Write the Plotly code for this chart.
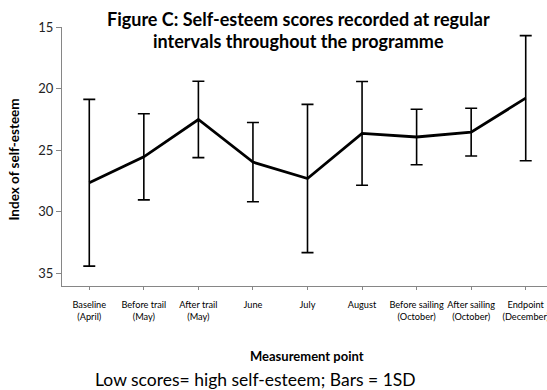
import plotly.graph_objects as go

categories = ["Baseline<br>(April)", "Before trail<br>(May)", "After trail<br>(May)", "June", "July",
              "August", "Before sailing<br>(October)", "After sailing<br>(October)", "Endpoint<br>(December)"]
means = [27.65, 25.54, 22.51, 25.97, 27.30, 23.64, 23.93, 23.54, 20.78]
sds = [6.77, 3.50, 3.10, 3.22, 6.02, 4.21, 2.25, 1.94, 5.08]
y_ticks = [15, 20, 25, 30, 35]
title_lines = ["Figure C: Self-esteem scores recorded at regular", "intervals throughout the programme"]
note = "Low scores= high self-esteem; Bars = 1SD"

FONT = "Lato"
AX = "#868686"
W, H = 547, 390
ML, MT, MB = 61.5, 27, 104
PW, PH = W - ML, H - MT - MB

def px_x(x):
    return (x - ML) / PW

def px_y(y):
    return (H - MB - y) / PH

fig = go.Figure()
fig.add_trace(go.Scatter(
    x=list(range(len(categories))), y=means, mode="lines",
    line=dict(color="black", width=2.8),
    error_y=dict(type="data", array=sds, visible=True, color="black", thickness=1.6, width=6),
    showlegend=False, hoverinfo="skip",
))

fig.update_layout(
    width=W, height=H,
    margin=dict(l=ML, r=0, t=MT, b=MB, autoexpand=False),
    paper_bgcolor="white", plot_bgcolor="white",
    font=dict(family=FONT, color="black"),
    xaxis=dict(range=[-0.5, 8.39], tickmode="array", tickvals=list(range(len(categories))),
               ticktext=categories, showline=True, linecolor=AX, linewidth=1.3,
               ticks="outside", ticklen=3, tickcolor=AX, showgrid=False, zeroline=False,
               tickfont=dict(family=FONT, size=9.2, color="black"), tickangle=0,
               ticklabelstandoff=7, ticklabeloverflow="allow", automargin=False),
    yaxis=dict(range=[36.03, 15], tickmode="array", tickvals=y_ticks, showline=True,
               linecolor=AX, linewidth=1.3, ticks="outside", ticklen=5, tickcolor=AX,
               showgrid=False, zeroline=False, automargin=False,
               tickfont=dict(family=FONT, size=13, color="#222")),
)

# title lines
for txt, yc in zip(title_lines, [19, 40.7]):
    fig.add_annotation(text="<b>" + txt + "</b>", xref="paper", yref="paper",
                       x=px_x(298), y=px_y(yc), xanchor="center", yanchor="middle",
                       showarrow=False, font=dict(family=FONT, size=18, color="black"))

# y-axis title
fig.add_annotation(text="<b>Index of self-esteem</b>", xref="paper", yref="paper",
                   x=px_x(13), y=px_y(160), xanchor="center", yanchor="middle", textangle=-90,
                   showarrow=False, font=dict(family=FONT, size=13.5, color="black"))

# x-axis title
fig.add_annotation(text="<b>Measurement point</b>", xref="paper", yref="paper",
                   x=px_x(307), y=px_y(356), xanchor="center", yanchor="middle",
                   showarrow=False, font=dict(family=FONT, size=13, color="black"))

# note
fig.add_annotation(text=note, xref="paper", yref="paper",
                   x=px_x(93), y=px_y(379), xanchor="left", yanchor="middle",
                   showarrow=False, font=dict(family=FONT, size=17.5, color="black"))

fig.write_html("out.html", config={"displayModeBar": False},
               post_script="document.body.style.margin='0';")
